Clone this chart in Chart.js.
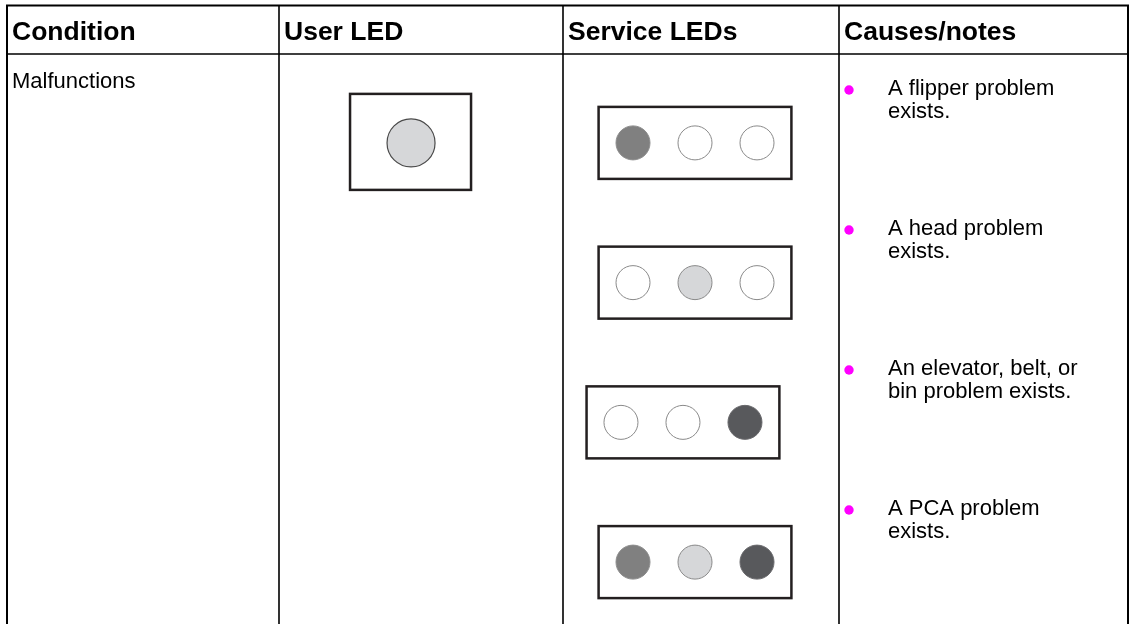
<!DOCTYPE html>
<html>
<head>
<meta charset="utf-8">
<script src="https://cdn.jsdelivr.net/npm/chart.js@4/dist/chart.umd.min.js"></script>
<style>
  html, body { margin: 0; padding: 0; background: #ffffff; overflow: hidden; }
  #ledTable { display: block; }
</style>
</head>
<body>
<canvas id="ledTable" width="1135" height="624"></canvas>
<script>
// table content
const headers = ['Condition', 'User LED', 'Service LEDs', 'Causes/notes'];
const condition = 'Malfunctions';
const userLed = 'light';
const serviceLeds = [
  ['mid', 'off', 'off'],
  ['off', 'light', 'off'],
  ['off', 'off', 'dark'],
  ['mid', 'light', 'dark']
];
const causes = [
  ['A flipper problem', 'exists.'],
  ['A head problem', 'exists.'],
  ['An elevator, belt, or', 'bin problem exists.'],
  ['A PCA problem', 'exists.']
];

// layout
const colX = [7, 279, 563, 839, 1128];
const headerLine = 54;
const rowShift = [0, 0, -0.194, 0];   // third box sits a little to the left
const userSlot = -3.58;
const slotMin = -4.2;
const slotMax = 2.5;
const slotPx = 62;
const font = '"Liberation Sans", Arial, sans-serif';

const ledColors = {
  off:   { fill: '#ffffff', line: '#8a8a8a' },
  light: { fill: '#d6d7d9', line: '#8a8a8a' },
  mid:   { fill: '#808080', line: '#8d8d8d' },
  dark:  { fill: '#58595c', line: '#6a6a6d' }
};

function buildDatasets() {
  const states = Object.keys(ledColors);
  const sets = states.map((state) => {
    const points = [];
    serviceLeds.forEach((row, r) => {
      row.forEach((s, i) => {
        if (s === state) points.push({ x: i + rowShift[r], y: r });
      });
    });
    return {
      label: state,
      data: points,
      pointRadius: 17,
      pointBackgroundColor: ledColors[state].fill,
      pointBorderColor: ledColors[state].line,
      pointBorderWidth: 1,
      showLine: false,
      clip: false
    };
  });
  sets.push({
    label: 'user',
    data: [{ x: userSlot, y: 0 }],
    pointRadius: 24,
    pointBackgroundColor: ledColors[userLed].fill,
    pointBorderColor: '#4a4a4a',
    pointBorderWidth: 1.2,
    showLine: false,
    clip: false
  });
  return sets;
}

const tablePlugin = {
  id: 'tablePlugin',
  beforeDraw(chart) {
    const { ctx, scales } = chart;
    const x = scales.x;
    const y = scales.y;
    ctx.save();
    ctx.fillStyle = '#ffffff';
    ctx.fillRect(0, 0, chart.width, chart.height);

    // grid
    ctx.strokeStyle = '#000000';
    ctx.lineWidth = 2;
    ctx.beginPath();
    ctx.moveTo(colX[0], 624); ctx.lineTo(colX[0], 5.5);
    ctx.lineTo(colX[4], 5.5); ctx.lineTo(colX[4], 624);
    ctx.stroke();
    ctx.lineWidth = 1.6;
    ctx.beginPath();
    ctx.moveTo(colX[0], headerLine); ctx.lineTo(colX[4], headerLine);
    for (let i = 1; i < 4; i++) {
      ctx.moveTo(colX[i], 5); ctx.lineTo(colX[i], 624);
    }
    ctx.stroke();

    // header
    ctx.fillStyle = '#000000';
    ctx.textBaseline = 'alphabetic';
    ctx.font = `bold 26.5px ${font}`;
    headers.forEach((h, i) => ctx.fillText(h, colX[i] + 5, 40));

    ctx.font = `22px ${font}`;
    ctx.fillText(condition, colX[0] + 5, 88);

    // causes with bullets
    causes.forEach((lines, r) => {
      const base = 95 + r * 140;
      ctx.fillStyle = '#ff00ff';
      ctx.beginPath();
      ctx.arc(849, base - 5, 4.7, 0, Math.PI * 2);
      ctx.fill();
      ctx.fillStyle = '#000000';
      lines.forEach((line, k) => ctx.fillText(line, 888, base + k * 23));
    });

    // LED frames
    ctx.strokeStyle = '#231f20';
    ctx.lineWidth = 2.5;
    serviceLeds.forEach((row, r) => {
      const left = x.getPixelForValue(-0.555 + rowShift[r]);
      const right = x.getPixelForValue(2.555 + rowShift[r]);
      const cy = y.getPixelForValue(r);
      ctx.strokeRect(left, cy - 36, right - left, 72);
    });
    const ux = x.getPixelForValue(userSlot);
    const uy = y.getPixelForValue(0);
    ctx.strokeRect(ux - 61, uy - 49, 121, 96);
    ctx.restore();
  }
};

const areaRight = 788;
const areaLeft = areaRight - (slotMax - slotMin) * slotPx;

new Chart(document.getElementById('ledTable'), {
  type: 'scatter',
  data: { datasets: buildDatasets() },
  options: {
    responsive: false,
    animation: false,
    events: [],
    layout: { autoPadding: false, padding: { left: areaLeft, right: 1135 - areaRight, top: 87, bottom: 6 } },
    plugins: { legend: { display: false }, tooltip: { enabled: false } },
    scales: {
      x: { type: 'linear', min: slotMin, max: slotMax, display: false },
      y: { type: 'linear', min: -0.4, max: 3.4, reverse: true, display: false }
    }
  },
  plugins: [tablePlugin]
});
</script>
</body>
</html>
